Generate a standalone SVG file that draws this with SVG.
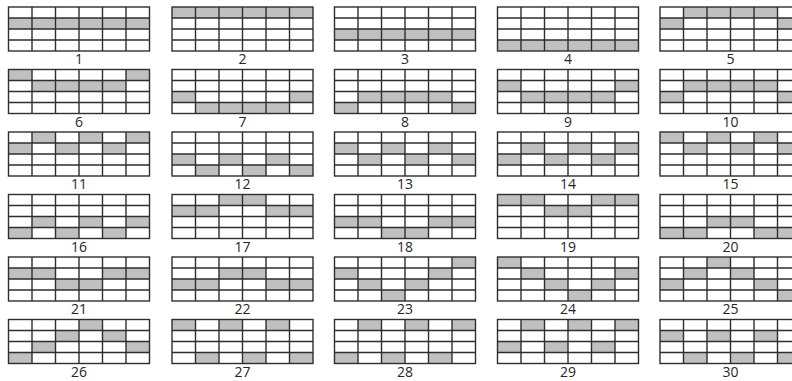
<svg xmlns="http://www.w3.org/2000/svg" xmlns:xlink="http://www.w3.org/1999/xlink" width="792" height="381" viewBox="0 0 792 381">
<style>
.f{fill:#c0c0c0}
.g{fill:none;stroke:#2e2e2e;stroke-width:1.4}
.t{font-family:"Open Sans","Liberation Sans",Arial,sans-serif;font-size:14px;fill:#262626;text-anchor:middle}
</style>
<defs>
<g id="lines" class="g">
<rect x="0" y="0" width="141" height="44"/>
<path d="M23.5 0V44M47 0V44M70.5 0V44M94 0V44M117.5 0V44M0 11H141M0 22H141M0 33H141"/>
</g>
<rect id="c" class="f" width="23.5" height="11"/>
</defs>
<rect width="792" height="381" fill="#fff"/>
<g id="connectors"/>

<!-- row 1 -->
<g id="g1" transform="translate(8.5,7)">
<use xlink:href="#c" x="0" y="11"/><use xlink:href="#c" x="23.5" y="11"/><use xlink:href="#c" x="47" y="11"/><use xlink:href="#c" x="70.5" y="11"/><use xlink:href="#c" x="94" y="11"/><use xlink:href="#c" x="117.5" y="11"/>
<use xlink:href="#lines"/><text class="t" x="70.5" y="57">1</text></g>
<g id="g2" transform="translate(172,7)">
<use xlink:href="#c" x="0" y="0"/><use xlink:href="#c" x="23.5" y="0"/><use xlink:href="#c" x="47" y="0"/><use xlink:href="#c" x="70.5" y="0"/><use xlink:href="#c" x="94" y="0"/><use xlink:href="#c" x="117.5" y="0"/>
<use xlink:href="#lines"/><text class="t" x="70.5" y="57">2</text></g>
<g id="g3" transform="translate(334.5,7)">
<use xlink:href="#c" x="0" y="22"/><use xlink:href="#c" x="23.5" y="22"/><use xlink:href="#c" x="47" y="22"/><use xlink:href="#c" x="70.5" y="22"/><use xlink:href="#c" x="94" y="22"/><use xlink:href="#c" x="117.5" y="22"/>
<use xlink:href="#lines"/><text class="t" x="70.5" y="57">3</text></g>
<g id="g4" transform="translate(497.5,7)">
<use xlink:href="#c" x="0" y="33"/><use xlink:href="#c" x="23.5" y="33"/><use xlink:href="#c" x="47" y="33"/><use xlink:href="#c" x="70.5" y="33"/><use xlink:href="#c" x="94" y="33"/><use xlink:href="#c" x="117.5" y="33"/>
<use xlink:href="#lines"/><text class="t" x="70.5" y="57">4</text></g>
<g id="g5" transform="translate(660,7)">
<use xlink:href="#c" x="23.5" y="0"/><use xlink:href="#c" x="47" y="0"/><use xlink:href="#c" x="70.5" y="0"/><use xlink:href="#c" x="94" y="0"/><use xlink:href="#c" x="0" y="11"/><use xlink:href="#c" x="117.5" y="11"/>
<use xlink:href="#lines"/><text class="t" x="70.5" y="57">5</text></g>

<!-- row 2 -->
<g id="g6" transform="translate(8.5,69.5)">
<use xlink:href="#c" x="0" y="0"/><use xlink:href="#c" x="117.5" y="0"/><use xlink:href="#c" x="23.5" y="11"/><use xlink:href="#c" x="47" y="11"/><use xlink:href="#c" x="70.5" y="11"/><use xlink:href="#c" x="94" y="11"/>
<use xlink:href="#lines"/><text class="t" x="70.5" y="57">6</text></g>
<g id="g7" transform="translate(172,69.5)">
<use xlink:href="#c" x="0" y="22"/><use xlink:href="#c" x="117.5" y="22"/><use xlink:href="#c" x="23.5" y="33"/><use xlink:href="#c" x="47" y="33"/><use xlink:href="#c" x="70.5" y="33"/><use xlink:href="#c" x="94" y="33"/>
<use xlink:href="#lines"/><text class="t" x="70.5" y="57">7</text></g>
<g id="g8" transform="translate(334.5,69.5)">
<use xlink:href="#c" x="23.5" y="22"/><use xlink:href="#c" x="47" y="22"/><use xlink:href="#c" x="70.5" y="22"/><use xlink:href="#c" x="94" y="22"/><use xlink:href="#c" x="0" y="33"/><use xlink:href="#c" x="117.5" y="33"/>
<use xlink:href="#lines"/><text class="t" x="70.5" y="57">8</text></g>
<g id="g9" transform="translate(497.5,69.5)">
<use xlink:href="#c" x="0" y="11"/><use xlink:href="#c" x="117.5" y="11"/><use xlink:href="#c" x="23.5" y="22"/><use xlink:href="#c" x="47" y="22"/><use xlink:href="#c" x="70.5" y="22"/><use xlink:href="#c" x="94" y="22"/>
<use xlink:href="#lines"/><text class="t" x="70.5" y="57">9</text></g>
<g id="g10" transform="translate(660,69.5)">
<use xlink:href="#c" x="23.5" y="11"/><use xlink:href="#c" x="47" y="11"/><use xlink:href="#c" x="70.5" y="11"/><use xlink:href="#c" x="94" y="11"/><use xlink:href="#c" x="0" y="22"/><use xlink:href="#c" x="117.5" y="22"/>
<use xlink:href="#lines"/><text class="t" x="70.5" y="57">10</text></g>

<!-- row 3 -->
<g id="g11" transform="translate(8.5,132)">
<use xlink:href="#c" x="23.5" y="0"/><use xlink:href="#c" x="70.5" y="0"/><use xlink:href="#c" x="117.5" y="0"/><use xlink:href="#c" x="0" y="11"/><use xlink:href="#c" x="47" y="11"/><use xlink:href="#c" x="94" y="11"/>
<use xlink:href="#lines"/><text class="t" x="70.5" y="57">11</text></g>
<g id="g12" transform="translate(172,132)">
<use xlink:href="#c" x="0" y="22"/><use xlink:href="#c" x="47" y="22"/><use xlink:href="#c" x="94" y="22"/><use xlink:href="#c" x="23.5" y="33"/><use xlink:href="#c" x="70.5" y="33"/><use xlink:href="#c" x="117.5" y="33"/>
<use xlink:href="#lines"/><text class="t" x="70.5" y="57">12</text></g>
<g id="g13" transform="translate(334.5,132)">
<use xlink:href="#c" x="0" y="11"/><use xlink:href="#c" x="47" y="11"/><use xlink:href="#c" x="94" y="11"/><use xlink:href="#c" x="23.5" y="22"/><use xlink:href="#c" x="70.5" y="22"/><use xlink:href="#c" x="117.5" y="22"/>
<use xlink:href="#lines"/><text class="t" x="70.5" y="57">13</text></g>
<g id="g14" transform="translate(497.5,132)">
<use xlink:href="#c" x="23.5" y="11"/><use xlink:href="#c" x="70.5" y="11"/><use xlink:href="#c" x="117.5" y="11"/><use xlink:href="#c" x="0" y="22"/><use xlink:href="#c" x="47" y="22"/><use xlink:href="#c" x="94" y="22"/>
<use xlink:href="#lines"/><text class="t" x="70.5" y="57">14</text></g>
<g id="g15" transform="translate(660,132)">
<use xlink:href="#c" x="0" y="0"/><use xlink:href="#c" x="47" y="0"/><use xlink:href="#c" x="94" y="0"/><use xlink:href="#c" x="23.5" y="11"/><use xlink:href="#c" x="70.5" y="11"/><use xlink:href="#c" x="117.5" y="11"/>
<use xlink:href="#lines"/><text class="t" x="70.5" y="57">15</text></g>

<!-- row 4 -->
<g id="g16" transform="translate(8.5,194.5)">
<use xlink:href="#c" x="23.5" y="22"/><use xlink:href="#c" x="70.5" y="22"/><use xlink:href="#c" x="117.5" y="22"/><use xlink:href="#c" x="0" y="33"/><use xlink:href="#c" x="47" y="33"/><use xlink:href="#c" x="94" y="33"/>
<use xlink:href="#lines"/><text class="t" x="70.5" y="57">16</text></g>
<g id="g17" transform="translate(172,194.5)">
<use xlink:href="#c" x="47" y="0"/><use xlink:href="#c" x="70.5" y="0"/><use xlink:href="#c" x="0" y="11"/><use xlink:href="#c" x="23.5" y="11"/><use xlink:href="#c" x="94" y="11"/><use xlink:href="#c" x="117.5" y="11"/>
<use xlink:href="#lines"/><text class="t" x="70.5" y="57">17</text></g>
<g id="g18" transform="translate(334.5,194.5)">
<use xlink:href="#c" x="0" y="22"/><use xlink:href="#c" x="23.5" y="22"/><use xlink:href="#c" x="94" y="22"/><use xlink:href="#c" x="117.5" y="22"/><use xlink:href="#c" x="47" y="33"/><use xlink:href="#c" x="70.5" y="33"/>
<use xlink:href="#lines"/><text class="t" x="70.5" y="57">18</text></g>
<g id="g19" transform="translate(497.5,194.5)">
<use xlink:href="#c" x="0" y="0"/><use xlink:href="#c" x="23.5" y="0"/><use xlink:href="#c" x="94" y="0"/><use xlink:href="#c" x="117.5" y="0"/><use xlink:href="#c" x="47" y="11"/><use xlink:href="#c" x="70.5" y="11"/>
<use xlink:href="#lines"/><text class="t" x="70.5" y="57">19</text></g>
<g id="g20" transform="translate(660,194.5)">
<use xlink:href="#c" x="47" y="22"/><use xlink:href="#c" x="70.5" y="22"/><use xlink:href="#c" x="0" y="33"/><use xlink:href="#c" x="23.5" y="33"/><use xlink:href="#c" x="94" y="33"/><use xlink:href="#c" x="117.5" y="33"/>
<use xlink:href="#lines"/><text class="t" x="70.5" y="57">20</text></g>

<!-- row 5 -->
<g id="g21" transform="translate(8.5,257)">
<use xlink:href="#c" x="0" y="11"/><use xlink:href="#c" x="23.5" y="11"/><use xlink:href="#c" x="94" y="11"/><use xlink:href="#c" x="117.5" y="11"/><use xlink:href="#c" x="47" y="22"/><use xlink:href="#c" x="70.5" y="22"/>
<use xlink:href="#lines"/><text class="t" x="70.5" y="57">21</text></g>
<g id="g22" transform="translate(172,257)">
<use xlink:href="#c" x="47" y="11"/><use xlink:href="#c" x="70.5" y="11"/><use xlink:href="#c" x="0" y="22"/><use xlink:href="#c" x="23.5" y="22"/><use xlink:href="#c" x="94" y="22"/><use xlink:href="#c" x="117.5" y="22"/>
<use xlink:href="#lines"/><text class="t" x="70.5" y="57">22</text></g>
<g id="g23" transform="translate(334.5,257)">
<use xlink:href="#c" x="117.5" y="0"/><use xlink:href="#c" x="0" y="11"/><use xlink:href="#c" x="94" y="11"/><use xlink:href="#c" x="23.5" y="22"/><use xlink:href="#c" x="70.5" y="22"/><use xlink:href="#c" x="47" y="33"/>
<use xlink:href="#lines"/><text class="t" x="70.5" y="57">23</text></g>
<g id="g24" transform="translate(497.5,257)">
<use xlink:href="#c" x="0" y="0"/><use xlink:href="#c" x="23.5" y="11"/><use xlink:href="#c" x="117.5" y="11"/><use xlink:href="#c" x="47" y="22"/><use xlink:href="#c" x="94" y="22"/><use xlink:href="#c" x="70.5" y="33"/>
<use xlink:href="#lines"/><text class="t" x="70.5" y="57">24</text></g>
<g id="g25" transform="translate(660,257)">
<use xlink:href="#c" x="47" y="0"/><use xlink:href="#c" x="23.5" y="11"/><use xlink:href="#c" x="70.5" y="11"/><use xlink:href="#c" x="0" y="22"/><use xlink:href="#c" x="94" y="22"/><use xlink:href="#c" x="117.5" y="33"/>
<use xlink:href="#lines"/><text class="t" x="70.5" y="57">25</text></g>

<!-- row 6 -->
<g id="g26" transform="translate(8.5,319.5)">
<use xlink:href="#c" x="70.5" y="0"/><use xlink:href="#c" x="47" y="11"/><use xlink:href="#c" x="94" y="11"/><use xlink:href="#c" x="23.5" y="22"/><use xlink:href="#c" x="117.5" y="22"/><use xlink:href="#c" x="0" y="33"/>
<use xlink:href="#lines"/><text class="t" x="70.5" y="57">26</text></g>
<g id="g27" transform="translate(172,319.5)">
<use xlink:href="#c" x="0" y="0"/><use xlink:href="#c" x="47" y="0"/><use xlink:href="#c" x="94" y="0"/><use xlink:href="#c" x="23.5" y="33"/><use xlink:href="#c" x="70.5" y="33"/><use xlink:href="#c" x="117.5" y="33"/>
<use xlink:href="#lines"/><text class="t" x="70.5" y="57">27</text></g>
<g id="g28" transform="translate(334.5,319.5)">
<use xlink:href="#c" x="23.5" y="0"/><use xlink:href="#c" x="70.5" y="0"/><use xlink:href="#c" x="117.5" y="0"/><use xlink:href="#c" x="0" y="33"/><use xlink:href="#c" x="47" y="33"/><use xlink:href="#c" x="94" y="33"/>
<use xlink:href="#lines"/><text class="t" x="70.5" y="57">28</text></g>
<g id="g29" transform="translate(497.5,319.5)">
<use xlink:href="#c" x="23.5" y="0"/><use xlink:href="#c" x="70.5" y="0"/><use xlink:href="#c" x="117.5" y="0"/><use xlink:href="#c" x="0" y="22"/><use xlink:href="#c" x="47" y="22"/><use xlink:href="#c" x="94" y="22"/>
<use xlink:href="#lines"/><text class="t" x="70.5" y="57">29</text></g>
<g id="g30" transform="translate(660,319.5)">
<use xlink:href="#c" x="0" y="11"/><use xlink:href="#c" x="47" y="11"/><use xlink:href="#c" x="94" y="11"/><use xlink:href="#c" x="23.5" y="33"/><use xlink:href="#c" x="70.5" y="33"/><use xlink:href="#c" x="117.5" y="33"/>
<use xlink:href="#lines"/><text class="t" x="70.5" y="57">30</text></g>
</svg>
